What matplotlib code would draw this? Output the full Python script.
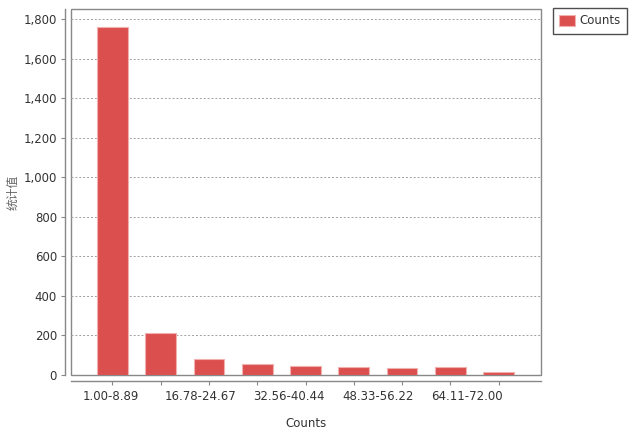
import matplotlib
matplotlib.use("Agg")
import matplotlib.pyplot as plt
from matplotlib.ticker import FuncFormatter, FixedLocator

plt.rcParams['font.family'] = ['DejaVu Sans', 'Noto Sans CJK SC']

bins = ["1.00-8.89", "8.89-16.78", "16.78-24.67", "24.67-32.56", "32.56-40.44",
        "40.44-48.33", "48.33-56.22", "56.22-64.11", "64.11-72.00"]
counts = [1763, 213, 82, 54, 44, 37, 32, 37, 15]
shown_labels = bins[::2]
series_name = "Counts"
x_title = "Counts"
y_title = "统计值"
yticks = [0, 200, 400, 600, 800, 1000, 1200, 1400, 1600, 1800]

bar_color = "#db4f4f"
edge_color = "#f0b0b0"

fig = plt.figure(figsize=(6.33, 4.30), dpi=100)
ax = fig.add_axes([71/633, 1-375/430, 470/633, 366/430])

x = list(range(len(counts)))
bars = ax.bar(x, counts, width=0.64, color=bar_color, edgecolor=edge_color,
              linewidth=0.8, label=series_name, zorder=3)

ax.set_xlim(-0.86, 8.88)
ax.set_ylim(-1, 1852)

ax.set_yticks(yticks)
ax.yaxis.set_major_formatter(FuncFormatter(lambda v, p: f"{int(v):,}"))
ax.yaxis.grid(True, linestyle=(0, (2, 2)), color="#a0a0a0", linewidth=0.7, zorder=1)

# tick marks at every bar, labels spread evenly as in the reference
ax.set_xticks(x)
ax.set_xticklabels([""] * len(x))
n = len(shown_labels)
label_pos = [-0.03 + i * (7.38 / (n - 1)) for i in range(n)]
ax.xaxis.set_minor_locator(FixedLocator(label_pos))
ax.set_xticklabels(shown_labels, minor=True)
ax.tick_params(axis='x', which='minor', length=0, pad=7, labelsize=8.5, labelcolor="#333333")
ax.tick_params(axis='x', which='major', length=3, color="#888888")
ax.tick_params(axis='y', length=3, color="#888888", labelsize=8.5, labelcolor="#333333", pad=3)

for s in ['top', 'right']:
    ax.spines[s].set_visible(False)
for s in ['left', 'bottom']:
    ax.spines[s].set_position(('outward', 4))
    ax.spines[s].set_color("#888888")
    ax.spines[s].set_linewidth(1.0)

ax.patch.set_edgecolor("#888888")
ax.patch.set_linewidth(1.0)

ax.set_xlabel(x_title, fontsize=8.5, color="#333333", labelpad=10)
ax.set_ylabel(y_title, fontsize=8.5, color="#666666", labelpad=3,
              family=['Noto Sans CJK SC', 'DejaVu Sans'])

leg = ax.legend(loc='upper left', bbox_to_anchor=(553/633, 1-8/430),
                bbox_transform=fig.transFigure, frameon=True, fancybox=False,
                fontsize=8.5, handlelength=1.3, handleheight=1.1,
                borderpad=0.55, handletextpad=0.35, borderaxespad=0)
leg.get_frame().set_edgecolor("#222222")
leg.get_frame().set_linewidth(1.0)
for t in leg.get_texts():
    t.set_color("#333333")

fig.savefig("out.png", dpi=100)
